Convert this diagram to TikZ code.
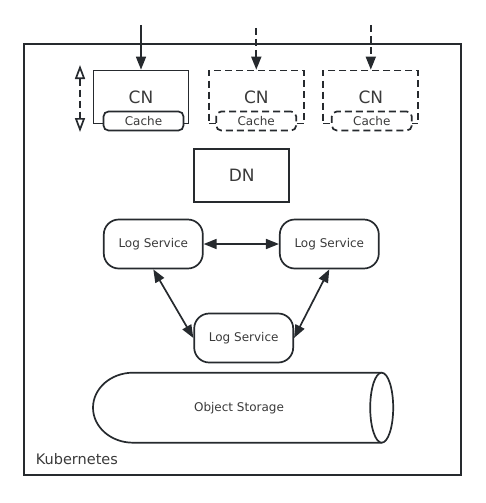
\documentclass[tikz,border=0pt]{standalone}
\usepackage{fontspec}
\setmainfont{DejaVu Sans}
\usepackage{xcolor}
\usepackage{tikz}
\usetikzlibrary{arrows.meta}
\definecolor{Ink}{HTML}{262A2E}
\definecolor{Label}{HTML}{3A3A3A}

\begin{document}
\begin{tikzpicture}[x=1pt, y=-1pt, line width=1.7pt, color=Ink,
    >={Triangle[length=13pt, width=10pt]},
    cnbox/.style={draw, inner sep=0pt, minimum width=95pt, minimum height=53pt,
                  text=Label, font=\fontsize{17}{20}\selectfont},
    cachebox/.style={draw, fill=white, rounded corners=5pt, inner sep=0pt,
                     minimum width=80pt, minimum height=19pt,
                     text=Label, font=\fontsize{12}{14}\selectfont},
    lsbox/.style={draw, rounded corners=15pt, inner sep=0pt, minimum width=99pt,
                  minimum height=49pt, text=Label, font=\fontsize{12}{14}\selectfont},
    spare/.style={dash pattern=on 7pt off 4pt}]
  \useasboundingbox (0,0) rectangle (486,503);

  \node[draw, inner sep=0pt, minimum width=437pt, minimum height=431pt] (k8s) at (242.5,259.5) {};
  \node[anchor=base west, inner sep=0pt, text=Label, font=\fontsize{14.5}{17}\selectfont] (k8slabel) at (35,464) {Kubernetes};

  \node[cnbox] (cn1) at (141,97) {CN};
  \node[cnbox, spare] (cn2) at (256.3,97) {CN};
  \node[cnbox, spare] (cn3) at (370.8,97) {CN};
  \node[cachebox] (ca1) at (143.5,121) {Cache};
  \node[cachebox, spare] (ca2) at (256.2,121) {Cache};
  \node[cachebox, spare] (ca3) at (371.8,121) {Cache};

  \coordinate (in1) at (141,25);
  \coordinate (in2) at (256.3,28);
  \coordinate (in3) at (370.8,25);
  \draw[->] (in1) -- (cn1);
  \draw[->, spare] (in2) -- (cn2);
  \draw[->, spare] (in3) -- (cn3);

  \coordinate (up) at (80,65);
  \coordinate (down) at (80,132);
  \draw[{Triangle[open, length=14pt, width=10pt]}-{Triangle[open, length=14pt, width=10pt]}, spare] (up) -- (down);

  \node[cnbox] (dn) at (241.7,175.5) {DN};

  \node[lsbox] (ls1) at (153.3,244) {Log Service};
  \node[lsbox] (ls2) at (329.3,244) {Log Service};
  \node[lsbox] (ls3) at (243.7,338) {Log Service};

  \draw[<->] (ls1) -- (ls2);
  \draw[<->] (ls1.south) -- (ls3.west);
  \draw[<->] (ls2.south) -- (ls3.east);

  \draw[fill=white] (381.7,372.7) -- (133,372.7)
    arc[start angle=-90, end angle=-270, x radius=40, y radius=35] -- (381.7,442.7);
  \draw[fill=white] (381.7,407.7) ellipse [x radius=11.5, y radius=35];
  \node[text=Label, font=\fontsize{12}{14}\selectfont] (os) at (239,408) {Object Storage};
\end{tikzpicture}
\end{document}
